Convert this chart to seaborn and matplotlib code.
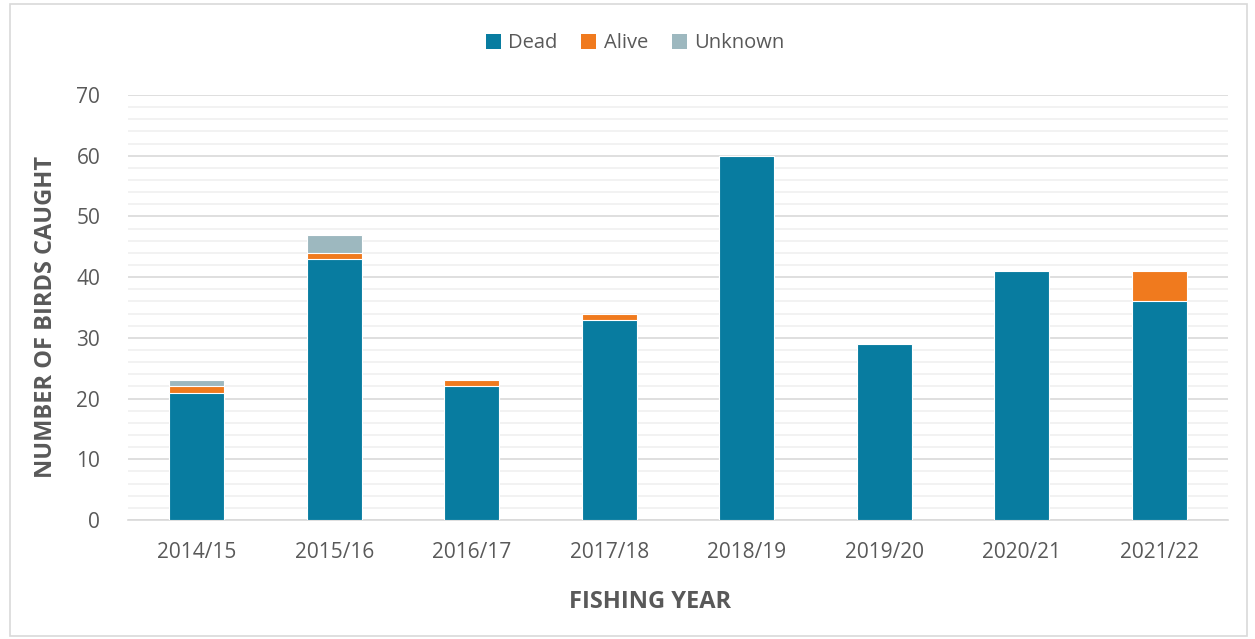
import matplotlib
matplotlib.use("Agg")
import matplotlib.pyplot as plt
from matplotlib.patches import Patch, Rectangle
from matplotlib.ticker import MultipleLocator
import numpy as np
import pandas as pd
import seaborn as sns

years = ["2014/15", "2015/16", "2016/17", "2017/18", "2018/19", "2019/20", "2020/21", "2021/22"]
dead = [21, 43, 22, 33, 60, 29, 41, 36]
alive = [1, 1, 1, 1, 0, 0, 0, 5]
unknown = [1, 3, 0, 0, 0, 0, 0, 0]

status_names = ["Dead", "Alive", "Unknown"]
colors = {"Dead": "#087ca0", "Alive": "#f07a1e", "Unknown": "#9db8bf"}
text_color = "#595959"

sns.set_theme(style="white")
plt.rcParams["font.family"] = ["Open Sans", "DejaVu Sans"]

df = pd.DataFrame({"year": years, "Dead": dead, "Alive": alive, "Unknown": unknown})
df["Dead_top"] = df["Dead"]
df["Alive_top"] = df["Dead"] + df["Alive"]
df["Unknown_top"] = df["Alive_top"] + df["Unknown"]

fig = plt.figure(figsize=(12.55, 6.39), dpi=100)
ax = fig.add_axes([0.102, 0.1862, 0.8765, 0.6651])

# Stacked bars: draw cumulative totals from the top layer down
for name in reversed(status_names):
    sns.barplot(data=df, x="year", y=f"{name}_top", color=colors[name], width=0.4,
                saturation=1, edgecolor="white", linewidth=0.8, ax=ax, zorder=3)

ax.set_ylim(0, 70)
ax.set_xlim(-0.5, len(years) - 0.5)
ax.yaxis.set_major_locator(MultipleLocator(10))
ax.yaxis.set_minor_locator(MultipleLocator(2))
ax.grid(axis="y", which="major", color="#d9d9d9", linewidth=1.2, zorder=0)
ax.grid(axis="y", which="minor", color="#f0f0f0", linewidth=1.2, zorder=0)
ax.set_axisbelow(True)
for s in ["top", "right", "left"]:
    ax.spines[s].set_visible(False)
ax.spines["bottom"].set_color("#d9d9d9")
ax.spines["bottom"].set_linewidth(1.2)

ax.tick_params(axis="both", which="both", length=0, colors=text_color, labelsize=15)
ax.tick_params(axis="y", pad=20)
ax.tick_params(axis="x", pad=16)

ax.set_ylabel("NUMBER OF BIRDS CAUGHT", fontsize=17, fontweight="bold", color=text_color)
ax.set_xlabel("FISHING YEAR", fontsize=17, fontweight="bold", color=text_color)
ax.xaxis.set_label_coords(0.4745, -0.165)
ax.yaxis.set_label_coords(-0.0636, 0.478)

handles = [Patch(facecolor=colors[n], edgecolor="none", label=n) for n in status_names]
fig.legend(handles=handles, loc="center", bbox_to_anchor=(0.506, 0.932), ncol=3, frameon=False,
           fontsize=14.5, labelcolor=text_color, handlelength=0.75, handleheight=0.75,
           handletextpad=0.35, columnspacing=1.2)

fig.patches.append(Rectangle((0.008, 0.005), 0.986, 0.988, transform=fig.transFigure,
                             fill=False, edgecolor="#d9d9d9", linewidth=1.2))

fig.savefig("out.png", dpi=100, facecolor="white")
